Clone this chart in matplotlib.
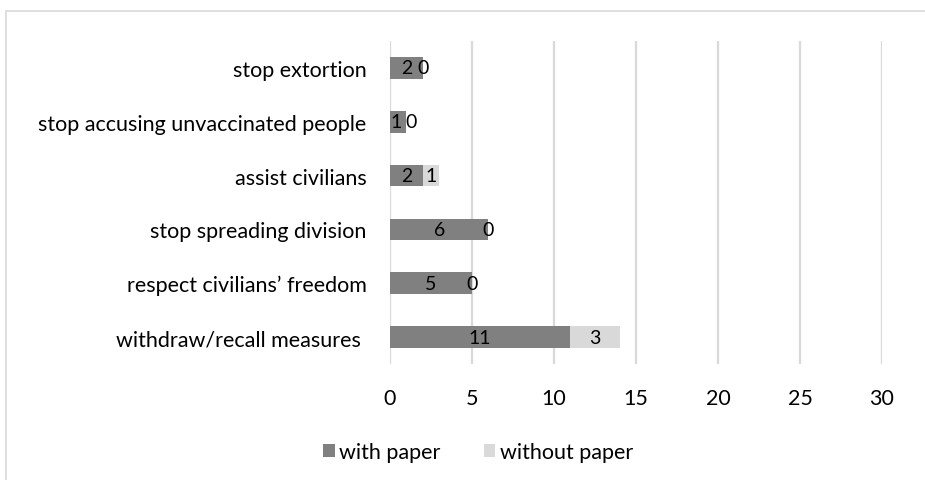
import matplotlib.pyplot as plt
import matplotlib.patches as mpatches
import numpy as np

plt.rcParams["font.family"] = ["Lato", "DejaVu Sans"]

# data, bottom to top as drawn
categories = [
    "withdraw/recall measures ",
    "respect civilians\u2019 freedom",
    "stop spreading division",
    "assist civilians",
    "stop accusing unvaccinated people",
    "stop extortion",
]
with_paper = [11, 5, 6, 2, 1, 2]
without_paper = [3, 0, 0, 1, 0, 0]
xticks = [0, 5, 10, 15, 20, 25, 30]

dark = "#808080"
light = "#d9d9d9"
fs = 15.5

fig = plt.figure(figsize=(9.25, 4.81), dpi=100)
W, H = 925, 481
ax = fig.add_axes([390 / W, 1 - 365 / H, (882 - 390) / W, (365 - 42) / H])

y = np.arange(len(categories))
ax.barh(y, with_paper, height=0.4, color=dark, label="with paper", zorder=3)
ax.barh(y, without_paper, left=with_paper, height=0.4, color=light,
        label="without paper", zorder=3)

# segment value labels; nudge apart when the first segment is too narrow
for i in range(len(categories)):
    a, b = with_paper[i], without_paper[i]
    nudge = 3 if a + b < 2 else 0
    ax.annotate(str(a), (a / 2, i), xytext=(-nudge / 2, 0), textcoords="offset points",
                ha="center", va="center", fontsize=14, zorder=4)
    ax.annotate(str(b), (a + b / 2, i), xytext=(nudge, 0), textcoords="offset points",
                ha="center", va="center", fontsize=14, zorder=4)

ax.set_xlim(0, 30)
ax.set_ylim(-0.5, len(categories) - 0.5)
ax.set_xticks(xticks)
ax.set_yticks(y)
ax.set_yticklabels(categories, fontsize=fs)
ax.tick_params(axis="x", labelsize=fs, length=0, pad=17)
ax.tick_params(axis="y", length=0, pad=17)
ax.grid(axis="x", color=light, linewidth=1.6, zorder=0)
for s in ax.spines.values():
    s.set_visible(False)

ax.legend(loc="center", bbox_to_anchor=(478 / W, 1 - 453 / H), bbox_transform=fig.transFigure,
          ncol=2, frameon=False, fontsize=fs, handlelength=0.55, handleheight=0.55,
          handletextpad=0.2, columnspacing=2.0)

# chart border (Excel chart area)
fig.patches.append(mpatches.Rectangle((6 / W, -0.1), 1.2, 1 - 12 / H + 0.1,
                                      transform=fig.transFigure, fill=False,
                                      edgecolor=light, linewidth=1.2))

fig.savefig("out.png", dpi=100)
